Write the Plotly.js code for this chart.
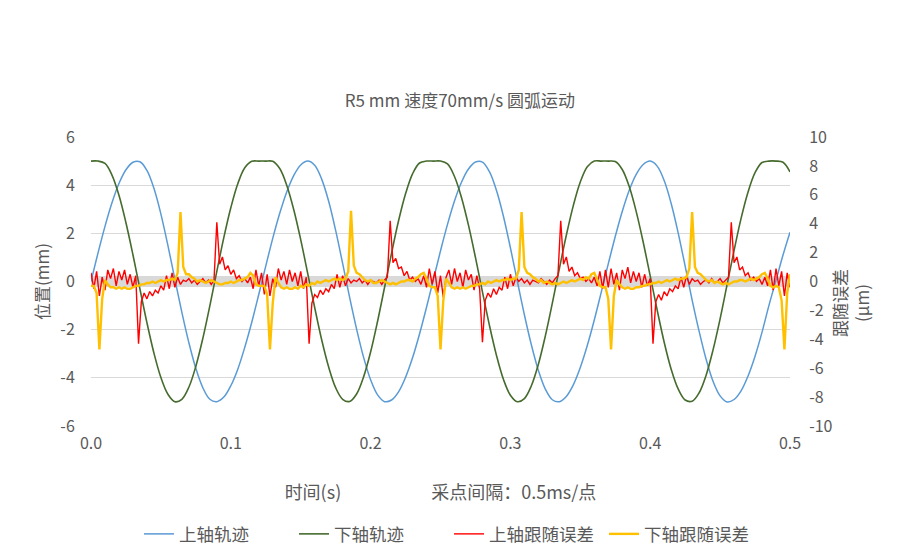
<!DOCTYPE html>
<html>
<head>
<meta charset="utf-8">
<script src="https://cdn.plot.ly/plotly-3.0.1.min.js"></script>
<style>
  html, body { margin: 0; padding: 0; background: #ffffff; }
  #chart { width: 900px; height: 558px; }
</style>
</head>
<body>
<div id="chart"></div>
<script>
// ---------------- data ----------------
const chartTitle = 'R5 mm 速度70mm/s 圆弧运动';
const xTitle = '时间(s)\u3000\u3000\u3000\u3000\u3000采点间隔：0.5ms/点';
const leftTitle = '位置(mm)';
const rightTitle = '跟随误差<br>(µm)';
const seriesNames = ['上轴轨迹', '下轴轨迹', '上轴跟随误差', '下轴跟随误差'];

const xTickVals = [0, 0.1, 0.2, 0.3, 0.4, 0.5];
const xTickText = ['0.0', '0.1', '0.2', '0.3', '0.4', '0.5'];
const leftTickVals = [-6, -4, -2, 0, 2, 4, 6];
const leftTickText = ['-6', '-4', '-2', '0', '2', '4', '6'];
const rightTickVals = [-10, -8, -6, -4, -2, 0, 2, 4, 6, 8, 10];
const rightTickText = ['-10', '-8', '-6', '-4', '-2', '0', '2', '4', '6', '8', '10'];

// trajectories: first sample at 0 s, one value every 5 ms (mm)
const trajStart = 0;
const trajStep = 0.005;
const upperTrack = [
  0.00, 1.18, 2.29, 3.27, 4.07, 4.64, 4.95, 4.97, 4.61, 3.87,
  2.80, 1.50, 0.09, -1.28, -2.54, -3.61, -4.41, -4.89, -4.99, -4.80,
  -4.33, -3.64, -2.73, -1.69, -0.54, 0.64, 1.79, 2.83, 3.72, 4.40,
  4.84, 5.00, 4.83, 4.25, 3.33, 2.12, 0.75, -0.66, -1.98, -3.15,
  -4.08, -4.71, -4.99, -4.92, -4.58, -3.98, -3.17, -2.18, -1.07, 0.10,
  1.27, 2.37, 3.34, 4.12, 4.67, 4.96, 4.96, 4.56, 3.79, 2.71,
  1.40, 0.00, -1.38, -2.63, -3.69, -4.47, -4.91, -4.99, -4.77, -4.29,
  -3.57, -2.66, -1.60, -0.44, 0.73, 1.87, 2.91, 3.79, 4.45, 4.86,
  5.00, 4.79, 4.19, 3.24, 2.02, 0.64, -0.77, -2.07, -3.23, -4.15,
  -4.75, -5.00, -4.90, -4.54, -3.92, -3.10, -2.10, -0.98, 0.05, 1.10,
  2.05
];
const lowerTrack = [
  5.00, 5.00, 4.90, 4.42, 3.58, 2.44, 1.11, -0.31, -1.71, -2.97,
  -3.99, -4.68, -4.99, -4.89, -4.39, -3.52, -2.36, -1.01, 0.42, 1.82,
  3.06, 4.06, 4.72, 4.99, 5.00, 5.00, 4.99, 4.69, 4.00, 2.99,
  1.74, 0.34, -1.08, -2.42, -3.55, -4.41, -4.89, -4.98, -4.67, -3.96,
  -2.93, -1.65, -0.24, 1.18, 2.52, 3.64, 4.47, 4.92, 5.00, 5.00,
  5.00, 4.88, 4.36, 3.49, 2.34, 1.00, -0.43, -1.82, -3.06, -4.06,
  -4.72, -4.99, -4.86, -4.33, -3.44, -2.26, -0.90, 0.53, 1.92, 3.15,
  4.13, 4.76, 5.00, 5.00, 5.00, 4.98, 4.65, 3.94, 2.90, 1.63,
  0.23, -1.19, -2.52, -3.64, -4.46, -4.92, -4.97, -4.62, -3.89, -2.83,
  -1.55, -0.13, 1.29, 2.62, 3.72, 4.52, 4.94, 5.00, 5.00, 4.95,
  4.55
];

// following errors: first sample at 0 s, one value every 2 ms (µm)
const errStart = 0;
const errStep = 0.002;
const upperError = [
  0.6, -0.5, 0.7, -1.0, 0.3, -0.6, 0.8, 0.2, 0.9, -0.3,
  0.7, 0.1, 0.8, -0.2, 0.5, -0.4, 0.4, -4.3, -1.4, -0.8,
  -1.2, -0.7, -1.0, -0.6, -0.8, -0.3, -0.6, 0.4, -0.5, 0.6,
  -0.4, 0.3, -0.2, 0.1, 0.0, 0.2, -0.1, 0.1, -0.2, 0.0,
  0.2, -0.1, 0.1, -0.2, 0.1, 4.1, 1.2, 1.7, 0.8, 1.1,
  0.5, 0.8, 0.2, 0.4, 0.0, 0.2, -0.1, 0.3, -0.5, 0.8,
  -0.3, 0.6, -0.9, 0.5, -1.0, 0.2, -0.4, 0.9, 0.1, 0.7,
  -0.2, 0.8, 0.0, 0.6, -0.3, 0.7, -0.5, 0.3, -4.3, -1.5,
  -0.9, -1.1, -0.6, -0.9, -0.5, -0.7, -0.2, -0.5, 0.5, -0.4,
  0.4, -0.3, 0.2, -0.1, 0.1, 0.0, 0.2, -0.1, 0.1, -0.2,
  0.1, 0.0, -0.1, 0.1, -0.2, 0.1, 0.3, 4.2, 1.3, 1.6,
  0.9, 1.0, 0.4, 0.7, 0.1, 0.3, 0.0, 0.2, -0.2, 0.4,
  -0.4, 0.9, -0.2, 0.7, -0.8, 0.4, -1.1, 0.3, 0.8, -0.2,
  0.9, 0.0, 0.6, -0.4, 0.8, 0.1, 0.5, -0.6, 0.4, -0.5,
  -4.2, -1.3, -0.8, -1.1, -0.5, -0.9, -0.4, -0.6, 0.3, -0.5,
  0.5, -0.3, 0.3, 0.0, 0.2, -0.1, 0.1, -0.2, 0.1, 0.0,
  -0.1, 0.2, 0.0, -0.2, 0.1, -0.1, 0.2, 0.4, 4.2, 1.2,
  1.7, 0.7, 1.0, 0.4, 0.6, 0.2, 0.3, 0.0, 0.2, -0.1,
  0.3, -0.3, 0.7, -0.5, 0.8, -0.4, 0.9, -0.2, 0.6, -0.6,
  0.8, 0.2, 1.0, -0.1, 0.7, 0.0, 0.6, -0.4, 0.5, -0.3,
  0.2, -4.3, -1.4, -0.9, -1.3, -0.7, -1.0, -0.5, -0.7, -0.3,
  -0.5, 0.3, -0.4, 0.4, -0.2, 0.2, 0.0, 0.1, -0.2, 0.0,
  0.1, -0.1, 0.2, -0.1, 0.0, 0.2, -0.1, 0.1, 0.3, 4.1,
  1.3, 1.7, 0.8, 1.0, 0.4, 0.6, 0.1, 0.3, 0.0, 0.2,
  -0.2, 0.3, -0.3, 0.8, -0.6, 0.9, -0.3, 0.7, -1.0, 0.6,
  -0.4
];
const lowerError = [
  -0.3, -0.3, -0.8, -4.7, -1.2, 0.1, -0.2, -0.4, -0.4, -0.5,
  -0.4, -0.5, -0.4, -0.5, -0.5, -0.4, -0.3, -0.3, -0.2, -0.2,
  -0.1, -0.1, 0.0, -0.1, 0.0, 0.1, 0.0, 0.1, 0.1, 0.2,
  0.1, 0.6, 4.8, 1.0, 0.5, 0.5, 0.3, 0.2, 0.0, 0.1,
  0.0, -0.1, 0.0, 0.1, 0.0, -0.1, -0.2, -0.2, -0.1, -0.1,
  0.0, -0.1, 0.0, 0.1, 0.1, 0.2, 0.3, 0.6, 0.4, -0.2,
  -0.3, -0.3, -0.3, -0.9, -4.7, -1.5, 0.3, -0.1, -0.4, -0.5,
  -0.4, -0.5, -0.5, -0.4, -0.5, -0.3, -0.4, -0.2, -0.3, -0.1,
  -0.2, 0.0, -0.1, 0.0, 0.1, 0.0, 0.1, 0.2, 0.1, 0.2,
  0.1, 0.2, 0.7, 4.9, 1.1, 0.6, 0.5, 0.3, 0.1, 0.0,
  0.1, -0.1, -0.1, 0.0, 0.1, 0.0, -0.1, -0.2, -0.1, -0.2,
  -0.1, 0.0, 0.0, 0.1, 0.1, 0.0, 0.2, 0.3, 0.5, 0.6,
  0.2, -0.3, -0.4, -0.4, -1.0, -4.7, -1.3, 0.2, -0.1, -0.4,
  -0.5, -0.4, -0.5, -0.4, -0.5, -0.4, -0.3, -0.3, -0.2, -0.2,
  -0.1, -0.2, 0.0, -0.1, 0.0, 0.1, 0.0, 0.1, 0.1, 0.2,
  0.1, 0.2, 0.2, 0.8, 4.8, 1.0, 0.6, 0.5, 0.3, 0.2,
  0.0, 0.1, -0.1, 0.0, -0.1, -0.2, -0.1, -0.2, -0.1, 0.0,
  -0.1, 0.0, 0.1, 0.0, 0.1, 0.2, 0.1, 0.3, 0.2, 0.5,
  0.6, 0.2, -0.3, -0.4, -0.4, -1.2, -4.7, -1.0, 0.1, -0.2,
  -0.4, -0.5, -0.4, -0.5, -0.5, -0.4, -0.4, -0.3, -0.3, -0.2,
  -0.2, -0.1, -0.1, 0.0, -0.1, 0.0, 0.1, 0.0, 0.1, 0.2,
  0.1, 0.2, 0.2, 0.3, 0.9, 4.8, 1.0, 0.6, 0.5, 0.3,
  0.1, 0.0, 0.1, -0.1, 0.0, -0.1, -0.2, -0.1, -0.2, -0.1,
  0.0, 0.0, 0.1, 0.1, 0.0, 0.1, 0.2, 0.1, 0.2, 0.3,
  0.5, 0.6, 0.2, -0.3, -0.4, -0.3, -0.4, -1.3, -4.7, -0.8,
  0.5
];

// ---------------- chart ----------------
const FONT = '"Noto Sans CJK SC", "Noto Sans", sans-serif';
const TEXT = '#595959';

const traces = [
  { name: seriesNames[0], y: upperTrack, x0: trajStart, dx: trajStep, yaxis: 'y',
    type: 'scatter', mode: 'lines', line: { color: '#5B9BD5', width: 1.5, shape: 'spline' } },
  { name: seriesNames[1], y: lowerTrack, x0: trajStart, dx: trajStep, yaxis: 'y',
    type: 'scatter', mode: 'lines', line: { color: '#466B2E', width: 1.6, shape: 'spline' } },
  { name: seriesNames[2], y: upperError, x0: errStart, dx: errStep, yaxis: 'y2',
    type: 'scatter', mode: 'lines', line: { color: '#FF0000', width: 1.4 } },
  { name: seriesNames[3], y: lowerError, x0: errStart, dx: errStep, yaxis: 'y2',
    type: 'scatter', mode: 'lines', line: { color: '#FFC000', width: 2.4 } }
];

const layout = {
  width: 900, height: 558,
  paper_bgcolor: '#ffffff', plot_bgcolor: '#ffffff',
  margin: { l: 91, r: 110, t: 137, b: 132 },
  font: { family: FONT, color: TEXT, size: 16 },
  showlegend: true,
  title: { text: chartTitle, x: 0.511, xref: 'container', xanchor: 'center',
           y: 1 - 101 / 558, yref: 'container', yanchor: 'middle',
           font: { family: FONT, size: 17, color: TEXT } },
  xaxis: {
    range: [0, 0.5], tickmode: 'array', tickvals: xTickVals, ticktext: xTickText,
    showgrid: false, zeroline: false, showline: false,
    ticks: 'outside', ticklen: 3, tickcolor: 'rgba(0,0,0,0)',
    tickfont: { family: FONT, size: 16, color: TEXT },
    title: { text: xTitle, standoff: 33, font: { family: FONT, size: 18, color: TEXT } }
  },
  yaxis: {
    range: [-6, 6], tickmode: 'array', tickvals: leftTickVals, ticktext: leftTickText,
    showgrid: true, gridcolor: '#D9D9D9', gridwidth: 1,
    zeroline: true, zerolinecolor: '#D9D9D9', zerolinewidth: 11,
    showline: false,
    ticks: 'outside', ticklen: 12, tickcolor: 'rgba(0,0,0,0)',
    tickfont: { family: FONT, size: 16, color: TEXT },
    title: { text: leftTitle, standoff: 6, font: { family: FONT, size: 17, color: TEXT } }
  },
  yaxis2: {
    range: [-10, 10], tickmode: 'array', tickvals: rightTickVals, ticktext: rightTickText,
    overlaying: 'y', side: 'right',
    showgrid: false, zeroline: false, showline: false,
    ticks: 'outside', ticklen: 15, tickcolor: 'rgba(0,0,0,0)',
    tickfont: { family: FONT, size: 16, color: TEXT }
  },
  legend: {
    orientation: 'h', xref: 'container', yref: 'container',
    x: 139 / 900, xanchor: 'left', y: 1 - 534 / 558, yanchor: 'middle',
    font: { family: FONT, size: 17.5, color: TEXT },
    itemwidth: 30, traceorder: 'normal',
    entrywidth: 110, entrywidthmode: 'pixels'
  },
  annotations: [{
    text: rightTitle, xref: 'paper', yref: 'paper',
    x: (850 - 91) / 699, y: (426 - 303) / 289, xanchor: 'center', yanchor: 'middle',
    textangle: -90, showarrow: false,
    font: { family: FONT, size: 17, color: TEXT }
  }]
};

Plotly.newPlot('chart', traces, layout, { displayModeBar: false, staticPlot: true });
</script>
</body>
</html>
